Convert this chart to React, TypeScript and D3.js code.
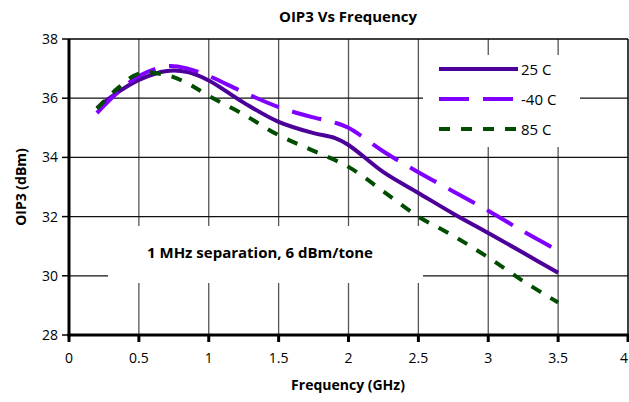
import React from "react";
import * as d3 from "d3";

const freq25 = [0.2, 0.35, 0.5, 0.7, 0.85, 1.0, 1.25, 1.5, 1.75, 1.9, 2.0, 2.25, 2.5, 2.75, 3.0, 3.25, 3.5];
const oip25 = [35.67, 36.2, 36.62, 36.92, 36.88, 36.6, 35.85, 35.2, 34.82, 34.66, 34.42, 33.5, 32.8, 32.1, 31.45, 30.78, 30.1];
const freqM40 = [0.2, 0.35, 0.5, 0.7, 0.85, 1.0, 1.25, 1.5, 1.75, 1.9, 2.0, 2.25, 2.5, 2.75, 3.0, 3.25, 3.5];
const oipM40 = [35.5, 36.2, 36.75, 37.08, 37.0, 36.75, 36.2, 35.7, 35.35, 35.18, 35.0, 34.2, 33.5, 32.85, 32.2, 31.5, 30.85];
const freq85 = [0.2, 0.35, 0.5, 0.7, 0.85, 1.0, 1.25, 1.5, 1.75, 2.0, 2.25, 2.5, 2.75, 3.0, 3.25, 3.5];
const oip85 = [35.65, 36.34, 36.83, 36.78, 36.5, 36.08, 35.45, 34.75, 34.22, 33.68, 32.85, 32.0, 31.35, 30.62, 29.82, 29.1];

const xTicks = [0, 0.5, 1, 1.5, 2, 2.5, 3, 3.5, 4];
const yTicks = [28, 30, 32, 34, 36, 38];
const seriesNames = ["25 C", "-40 C", "85 C"];

const W = 629, H = 402;
const L = 69, R = 628, T = 39, B = 335;
const FONT = "'Open Sans', 'Liberation Sans', sans-serif";

export default function App() {
  const x = d3.scaleLinear().domain([0, 4]).range([L, R]);
  const y = d3.scaleLinear().domain([28, 38]).range([B, T]);
  const line = d3
    .line<[number, number]>()
    .x((d) => x(d[0]))
    .y((d) => y(d[1]))
    .curve(d3.curveCatmullRom.alpha(0.5));

  const series = [
    { name: seriesNames[0], xs: freq25, ys: oip25, color: "#4d0099", dash: "none" },
    { name: seriesNames[1], xs: freqM40, ys: oipM40, color: "#8000ff", dash: "30 14" },
    { name: seriesNames[2], xs: freq85, ys: oip85, color: "#004d00", dash: "11 11" },
  ];

  return (
    <svg width={W} height={H} style={{ position: "fixed", left: 0, top: 0, background: "#fff" }} fontFamily={FONT}>
      <rect x={0} y={0} width={W} height={H} fill="#fff" />
      <text x={348} y={22} textAnchor="middle" fontSize={15} fontWeight="bold">OIP3 Vs Frequency</text>
      {/* grid */}
      {xTicks.slice(1, -1).map((t) => (
        <line key={"gx" + t} x1={x(t)} x2={x(t)} y1={T} y2={B} stroke="#555" strokeWidth={1.3} />
      ))}
      {yTicks.slice(1, -1).map((t) => (
        <line key={"gy" + t} x1={L} x2={R} y1={y(t)} y2={y(t)} stroke="#111" strokeWidth={1.3} />
      ))}
      {/* plot border */}
      <line x1={L} x2={R} y1={T} y2={T} stroke="#000" strokeWidth={1.5} />
      <line x1={R} x2={R} y1={T} y2={B} stroke="#000" strokeWidth={1.5} />
      {/* white boxes */}
      <rect x={423} y={55} width={157} height={92} fill="#fff" />
      <rect x={108} y={226} width={315} height={57} fill="#fff" />
      {/* axes */}
      <line x1={L} x2={L} y1={T} y2={B + 1.5} stroke="#000" strokeWidth={3} />
      <line x1={L - 1.5} x2={R + 0.75} y1={B} y2={B} stroke="#000" strokeWidth={3} />
      {yTicks.map((t) => (
        <g key={"yt" + t}>
          <line x1={L - 7} x2={L} y1={y(t)} y2={y(t)} stroke="#000" strokeWidth={1.5} />
          <text x={L - 11} y={y(t) + 5} textAnchor="end" fontSize={14}>{t}</text>
        </g>
      ))}
      {xTicks.map((t) => (
        <g key={"xt" + t}>
          <line x1={x(t)} x2={x(t)} y1={B} y2={B + 7} stroke="#000" strokeWidth={3} />
          <text x={t === 4 ? x(t) - 4 : x(t)} y={B + 28} textAnchor="middle" fontSize={14}>{t}</text>
        </g>
      ))}
      <text x={348} y={390} textAnchor="middle" fontSize={14} fontWeight="bold">Frequency (GHz)</text>
      <text transform={`translate(26,${(T + B) / 2}) rotate(-90)`} textAnchor="middle" fontSize={14} fontWeight="bold">OIP3 (dBm)</text>
      <text x={260} y={258} textAnchor="middle" fontSize={15} fontWeight="bold">1 MHz separation, 6 dBm/tone</text>
      {/* data */}
      {series.map((s) => (
        <path
          key={s.name}
          d={line(s.xs.map((v, i) => [v, s.ys[i]] as [number, number])) || ""}
          fill="none"
          stroke={s.color}
          strokeWidth={4}
          strokeDasharray={s.dash}
        />
      ))}
      {/* legend */}
      {series.map((s, i) => (
        <g key={"lg" + s.name}>
          <line x1={439} x2={518} y1={69 + i * 30} y2={69 + i * 30} stroke={s.color} strokeWidth={4} strokeDasharray={s.dash} />
          <text x={521} y={69 + i * 30 + 6} fontSize={15}>{s.name}</text>
        </g>
      ))}
    </svg>
  );
}
